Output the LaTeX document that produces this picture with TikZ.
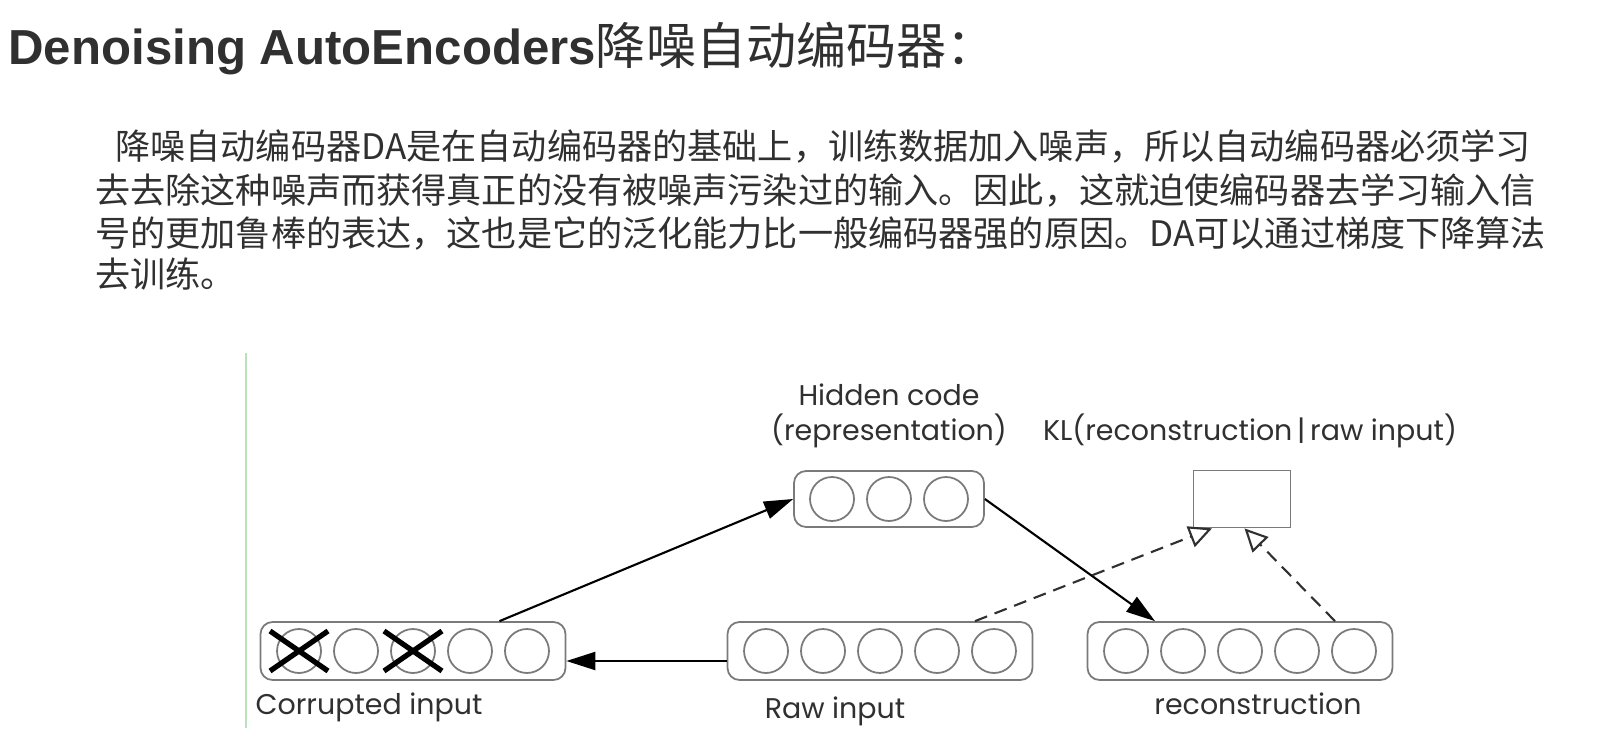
\documentclass[tikz,border=0pt]{standalone}
\usepackage{fontspec}
\setmainfont{Liberation Sans}
\newfontfamily\cjk{Noto Sans CJK SC}
\newfontfamily\labelfont{Poppins}
\usetikzlibrary{positioning,arrows.meta}
\definecolor{textgray}{HTML}{303030}
\definecolor{boxgray}{HTML}{7A7A7A}
\definecolor{slidegreen}{HTML}{B9E2B9}

\begin{document}
\begin{tikzpicture}[x=0.02cm,y=-0.02cm,
		layer/.style={shape=rectangle,draw=boxgray,line width=1pt,rounded corners=0.24cm,
			minimum width=6.1cm,minimum height=1.16cm},
		unit/.style={shape=circle,draw=boxgray,line width=1pt,minimum size=0.88cm,inner sep=0pt},
		lbl/.style={font=\labelfont\fontsize{16.2}{19}\selectfont,text=textgray,anchor=base,inner sep=0pt},
		para/.style={font=\cjk\fontsize{20}{24}\selectfont,text=textgray,anchor=west,inner sep=0pt},
		flow/.style={-{Triangle[length=0.58cm,width=0.36cm]},line width=1.2pt,black},
		klflow/.style={-{Triangle[open,length=0.46cm,width=0.44cm,fill=white,line width=1.2pt]},line width=1.2pt,
			textgray,dash pattern=on 0.26cm off 0.16cm},
		cross/.style={line width=3pt,black}]
		\useasboundingbox (0,0) rectangle (1604,753);

		% title and text
		\node[anchor=base west,inner sep=0pt,text=textgray] (title) at (8,65)
			{\fontsize{28}{32}\selectfont\bfseries Denoising AutoEncoders{\cjk\mdseries\fontsize{28.5}{32}\selectfont 降噪自动编码器：}};
		\node[para] (line1) at (115,146) {降噪自动编码器DA是在自动编码器的基础上，训练数据加入噪声，所以自动编码器必须学习};
		\node[para] (line2) at (95,190) {去去除这种噪声而获得真正的没有被噪声污染过的输入。因此，这就迫使编码器去学习输入信};
		\node[para] (line3) at (95,233) {号的更加鲁棒的表达，这也是它的泛化能力比一般编码器强的原因。DA可以通过梯度下降算法};
		\node[para] (line4) at (95,274) {去训练。};

		% slide rule
		\draw[slidegreen,line width=1.2pt] (246,353) -- (246,728);

		% create the nodes.
		\node[layer] (corrupted) at (413,651) {};
		\node[layer] (raw) at (880,651) {};
		\node[layer] (recon) at (1240,651) {};
		\node[layer,minimum width=3.8cm,minimum height=1.12cm] (hidden) at (889,499) {};
		\node[shape=rectangle,draw=boxgray,line width=1pt,minimum width=1.94cm,minimum height=1.14cm] (kl) at (1242,499) {};
		\foreach \i in {1,...,5} {
			\node[unit] (corrupted\i) at ([xshift={(\i-3)*1.14cm}]corrupted.center) {};
			\node[unit] (raw\i) at ([xshift={(\i-3)*1.14cm}]raw.center) {};
			\node[unit] (recon\i) at ([xshift={(\i-3)*1.14cm}]recon.center) {};
		}
		\foreach \i in {1,2,3}
			\node[unit] (hidden\i) at ([xshift={(\i-2)*1.14cm}]hidden.center) {};

		% knocked out units
		\foreach \i in {1,3} {
			\draw[cross] ([shift={(-29,-20)}]corrupted\i.center) -- ([shift={(29,20)}]corrupted\i.center);
			\draw[cross] ([shift={(-29,20)}]corrupted\i.center) -- ([shift={(29,-20)}]corrupted\i.center);
		}

		% labels
		\node[lbl] (hiddenlbl) at (889,405) {Hidden code};
		\node[lbl] (reprlbl) at (889,440) {(representation)};
		\node[lbl] (kllbl) at (1250,440) {KL(reconstruction\,|\,raw input)};
		\node[lbl] (corruptedlbl) at (369,714) {Corrupted input};
		\node[lbl] (rawlbl) at (835,718) {Raw input};
		\node[lbl] (reconlbl) at (1258,714) {reconstruction};

		% connect the nodes
		\draw[flow] ([xshift=1.73cm]corrupted.north) -- (hidden.west);
		\draw[flow] (hidden.east) -- ([xshift=-1.7cm]recon.north);
		\draw[flow] ([yshift=-0.2cm]raw.west) -- ([yshift=-0.2cm]corrupted.east);
		\draw[klflow] ([xshift=1.9cm]raw.north) -- ([xshift=-0.6cm]kl.south);
		\draw[klflow] ([xshift=1.9cm]recon.north) -- ([xshift=0.05cm]kl.south);
	\end{tikzpicture}
\end{document}
